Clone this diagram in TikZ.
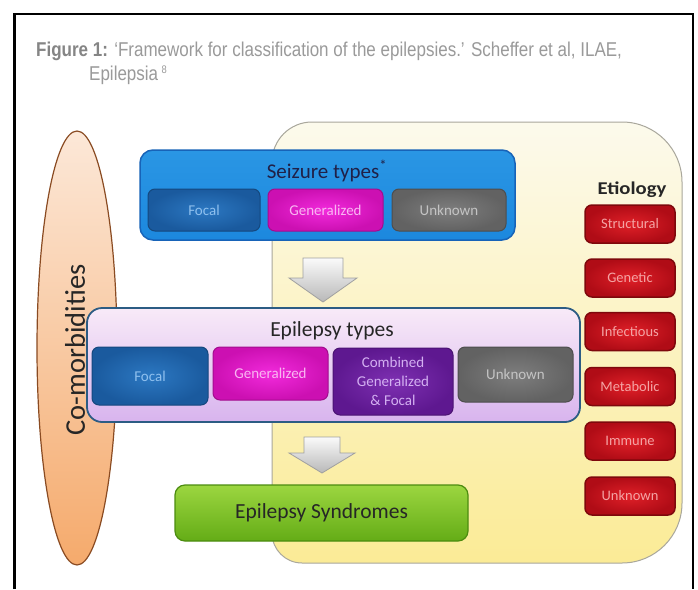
\documentclass[tikz,border=0pt]{standalone}
\usepackage{fontspec}
\setmainfont{Carlito}
\newfontfamily\capfont[FakeStretch=0.85]{Liberation Sans}
\usetikzlibrary{shapes.geometric,calc}
\definecolor{capgray}{HTML}{9A9A9A}
\definecolor{capbold}{HTML}{858585}
\definecolor{ytop}{HTML}{FCFAEC}
\definecolor{ybot}{HTML}{FBEB96}
\definecolor{yborder}{HTML}{A9A79C}
\definecolor{ctop}{HTML}{FCE8D8}
\definecolor{cbot}{HTML}{F5AA6C}
\definecolor{cborder}{HTML}{8A4B22}
\definecolor{darktext}{HTML}{262626}
\definecolor{sztop}{HTML}{2A96E4}
\definecolor{szmid}{HTML}{8AD6F7}
\definecolor{szbot}{HTML}{1C88DE}
\definecolor{szborder}{HTML}{1763B8}
\definecolor{focal}{HTML}{1A5A9E}
\definecolor{focaltop}{HTML}{2C78C2}
\definecolor{focaltext}{HTML}{8FC0EE}
\definecolor{gen}{HTML}{CC10B2}
\definecolor{gentop}{HTML}{F22ADC}
\definecolor{gentext}{HTML}{F9B6F2}
\definecolor{unk}{HTML}{626262}
\definecolor{unktop}{HTML}{7E7E7E}
\definecolor{unktext}{HTML}{C4C4C4}
\definecolor{comb}{HTML}{5E1890}
\definecolor{combtop}{HTML}{7E30B2}
\definecolor{combtext}{HTML}{D4B0F2}
\definecolor{eptop}{HTML}{F8EAF8}
\definecolor{epbot}{HTML}{D8B4EE}
\definecolor{epborder}{HTML}{2C5C84}
\definecolor{grtop}{HTML}{9CD640}
\definecolor{grbot}{HTML}{64AC16}
\definecolor{grborder}{HTML}{4C8C10}
\definecolor{red}{HTML}{B00C16}
\definecolor{redtop}{HTML}{E02028}
\definecolor{redborder}{HTML}{7E080C}
\definecolor{redtext}{HTML}{F4A4A4}
\definecolor{arrtop}{HTML}{FAFAFA}
\definecolor{arrbot}{HTML}{B8B8B8}
\definecolor{arrborder}{HTML}{A0A0A0}
\tikzset{
  inbox/.style={rounded corners=7pt, inner sep=2pt, align=center,
    font=\fontsize{15}{19}\selectfont, line width=1pt},
  focalbox/.style={inbox, draw=focal!80!black, inner color=focaltop, outer color=focal, text=focaltext},
  genbox/.style={inbox, draw=gen!80!black, inner color=gentop, outer color=gen, text=gentext},
  unkbox/.style={inbox, draw=unk!80!black, inner color=unktop, outer color=unk, text=unktext},
  combbox/.style={inbox, draw=comb!80!black, inner color=combtop, outer color=comb, text=combtext},
  redbox/.style={inbox, draw=redborder, line width=1.5pt, inner color=redtop, outer color=red, text=redtext,
    minimum width=90, minimum height=38, font=\fontsize{14.5}{17}\selectfont},
  garrow/.style={draw=arrborder, line width=0.8pt, top color=arrtop, bottom color=arrbot}
}
\begin{document}
\begin{tikzpicture}[x=1pt,y=-1pt]
\useasboundingbox (0,0) rectangle (698,589);
\fill[white] (0,0) rectangle (698,589);
% frame
\draw[line width=2.5pt] (14.5,589) -- (14.5,14) -- (693,14) -- (693,589);
% caption
\node[anchor=base west, inner sep=0, font=\capfont\fontsize{20}{24}\selectfont, text=capgray] (cap1) at (36,56)
  {\textcolor{capbold}{\textbf{Figure 1:}} ‘Framework for classification of the epilepsies.’ Scheffer et al, ILAE,};
\node[anchor=base west, inner sep=0, font=\capfont\fontsize{20}{24}\selectfont, text=capgray] (cap2) at (89,80)
  {Epilepsia\,\raisebox{0.6ex}{\fontsize{11}{12}\selectfont 8}};
% yellow etiology region
\path[draw=yborder, line width=1pt, top color=ytop, bottom color=ybot]
  (272,162) arc[start angle=180,end angle=270,radius=40] -- (622,122)
  arc[start angle=270,end angle=360,radius=60] -- (682,503)
  arc[start angle=0,end angle=90,radius=60] -- (302,563)
  arc[start angle=90,end angle=180,radius=30] -- cycle;
% co-morbidities
\node[ellipse, draw=cborder, line width=1.2pt, top color=ctop, bottom color=cbot,
  minimum width=80, minimum height=434, inner sep=0] (comorb) at (77,348) {};
\node[rotate=90, inner sep=0, font=\fontsize{28.5}{32}\selectfont, text=darktext] (comtext) at (75,350) {Co-morbidities};
% seizure types
\node[rounded corners=13pt, draw=szborder, line width=1.5pt, top color=sztop, middle color=szmid, bottom color=szbot,
  minimum width=375, minimum height=90] (sz) at (327.5,195) {};
\node[inner sep=0, font=\fontsize{21}{24}\selectfont, text=darktext!85!blue] (sztitle) at (327,171) {Seizure types\textsuperscript{*}};
\node[focalbox, minimum width=112, minimum height=42] (szf) at (204,210) {Focal};
\node[genbox, minimum width=115, minimum height=42] (szg) at (325.5,210) {Generalized};
\node[unkbox, minimum width=114, minimum height=42] (szu) at (449,210) {Unknown};
% arrow 1
\coordinate (a1) at (323,258);
\draw[garrow] (a1) ++(-20,0) -- ++(40,0) -- ++(0,20) -- ++(14,0) -- ++(-34,24) -- ++(-34,-24) -- ++(14,0) -- cycle;
% epilepsy types
\node[rounded corners=15pt, draw=epborder, line width=1.8pt, top color=eptop, bottom color=epbot,
  minimum width=493, minimum height=114] (ep) at (333.5,365) {};
\node[inner sep=0, font=\fontsize{21.5}{24}\selectfont, text=darktext] (eptitle) at (332,331) {Epilepsy types};
\node[focalbox, minimum width=116, minimum height=58] (epf) at (150,376) {Focal};
\node[genbox, minimum width=115, minimum height=53] (epg) at (270.5,373.5) {Generalized};
\node[combbox, minimum width=120, minimum height=67] (epc) at (393,381.5) {Combined\\Generalized\\\&\ Focal};
\node[unkbox, minimum width=115, minimum height=55] (epu) at (515.5,374.5) {Unknown};
% arrow 2
\coordinate (a2) at (322,437);
\draw[garrow] (a2) ++(-18,0) -- ++(36,0) -- ++(0,16) -- ++(15,0) -- ++(-33,20) -- ++(-33,-20) -- ++(15,0) -- cycle;
% syndromes
\node[rounded corners=10pt, draw=grborder, line width=1.2pt, top color=grtop, bottom color=grbot,
  minimum width=293, minimum height=56, font=\fontsize{21.5}{24}\selectfont, text=darktext] (syn) at (321.5,513) {Epilepsy Syndromes};
% etiology
\node[inner sep=0, xscale=1.15, font=\bfseries\fontsize{18}{20}\selectfont, text=darktext] (etio) at (632,190) {Etiology};
\node[redbox] (e1) at (630,224) {Structural};
\node[redbox] (e2) at (630,278) {Genetic};
\node[redbox] (e3) at (630,331.5) {Infectious};
\node[redbox] (e4) at (630,386.5) {Metabolic};
\node[redbox] (e5) at (630,441) {Immune};
\node[redbox] (e6) at (630,496) {Unknown};
\end{tikzpicture}
\end{document}
